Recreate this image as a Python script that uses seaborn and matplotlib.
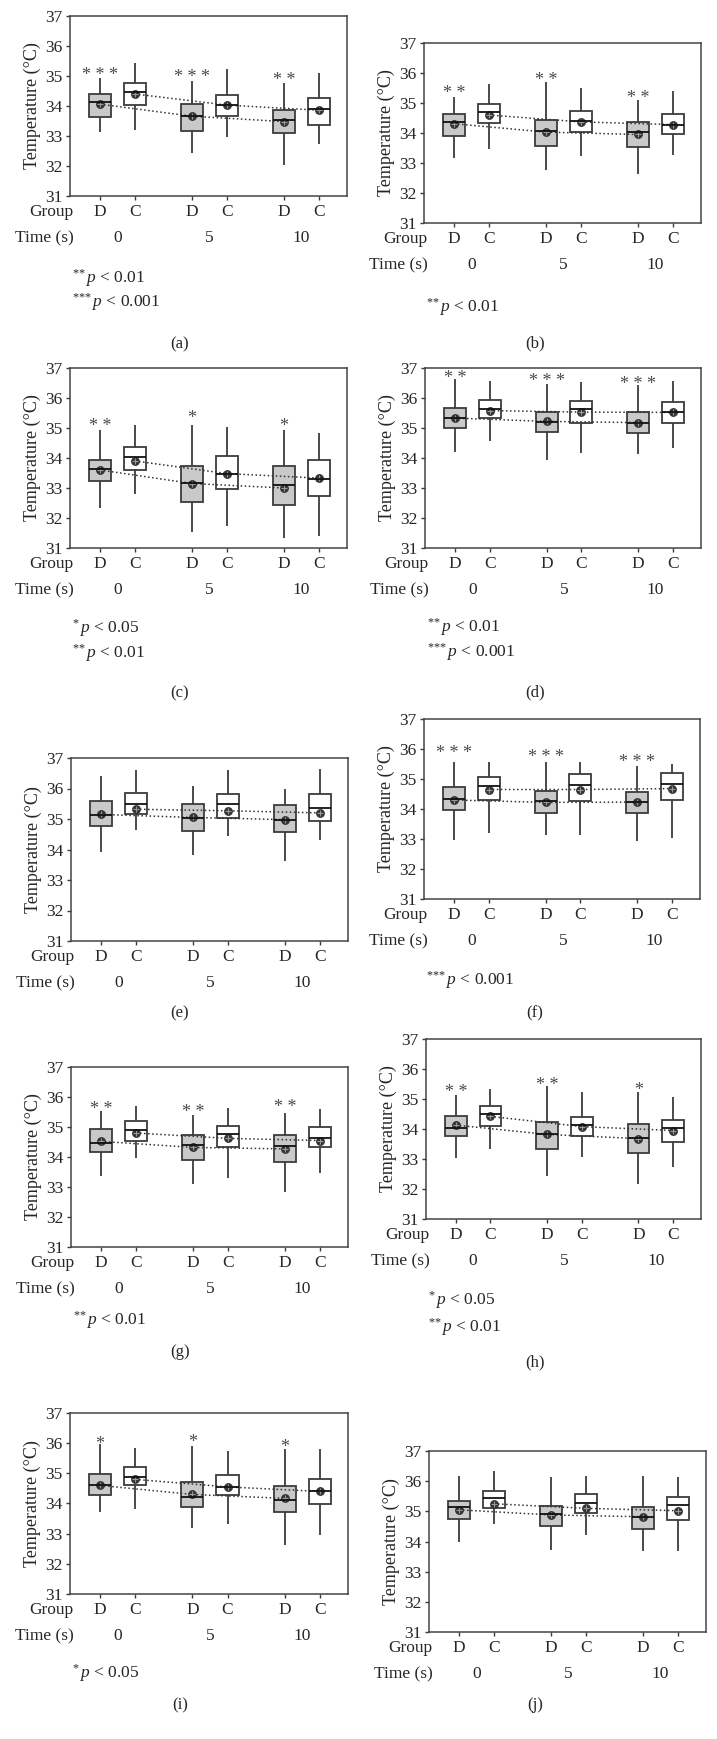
import numpy as np
import pandas as pd
import matplotlib
matplotlib.use("Agg")
import matplotlib.pyplot as plt
import seaborn as sns

# ---------------- data ----------------
times = ["0", "5", "10"]
groups = ["D", "C"]
# five-number summaries [low whisker, Q1, median, Q3, high whisker], order: D0, C0, D5, C5, D10, C10
a_box = [[33.15, 33.63, 34.13, 34.40, 34.95], [33.20, 34.02, 34.48, 34.78, 35.45],
         [32.43, 33.18, 33.68, 34.08, 34.83], [32.95, 33.68, 34.02, 34.38, 35.25],
         [32.05, 33.10, 33.52, 33.88, 34.78], [32.73, 33.37, 33.90, 34.28, 35.10]]
a_mean = [34.06, 34.40, 33.66, 34.03, 33.48, 33.86]
a_stars = ["***", "***", "**"]
a_star_y = [35.15, 35.10, 34.98]
a_notes = ["**", "***"]
a_note_p = ["0.01", "0.001"]

b_box = [[33.17, 33.91, 34.36, 34.62, 35.20], [33.45, 34.34, 34.70, 34.96, 35.62],
         [32.78, 33.56, 34.08, 34.45, 35.70], [33.22, 34.04, 34.41, 34.72, 35.50],
         [32.63, 33.54, 34.03, 34.37, 35.10], [33.28, 33.98, 34.26, 34.62, 35.40]]
b_mean = [34.31, 34.60, 34.03, 34.37, 33.95, 34.28]
b_stars = ["**", "**", "**"]
b_star_y = [35.45, 35.90, 35.30]
b_notes = ["**"]
b_note_p = ["0.01"]

c_box = [[32.35, 33.22, 33.65, 33.93, 34.95], [32.80, 33.60, 34.05, 34.38, 35.10],
         [31.55, 32.55, 33.18, 33.73, 35.10], [31.75, 32.98, 33.48, 34.07, 35.05],
         [31.35, 32.43, 33.10, 33.75, 34.92], [31.40, 32.75, 33.30, 33.93, 34.85]]
c_mean = [33.60, 33.90, 33.15, 33.48, 33.00, 33.33]
c_stars = ["**", "*", "*"]
c_star_y = [35.20, 35.45, 35.20]
c_notes = ["*", "**"]
c_note_p = ["0.05", "0.01"]

d_box = [[34.20, 34.99, 35.35, 35.67, 36.62], [34.57, 35.33, 35.65, 35.95, 36.58],
         [33.93, 34.86, 35.20, 35.55, 36.47], [34.17, 35.18, 35.63, 35.90, 36.55],
         [34.15, 34.83, 35.16, 35.52, 36.42], [34.35, 35.16, 35.55, 35.88, 36.58]]
d_mean = [35.33, 35.58, 35.22, 35.53, 35.18, 35.52]
d_stars = ["**", "***", "***"]
d_star_y = [36.80, 36.70, 36.60]
d_notes = ["**", "***"]
d_note_p = ["0.01", "0.001"]

e_box = [[33.93, 34.77, 35.12, 35.60, 36.40], [34.65, 35.17, 35.50, 35.85, 36.60],
         [33.83, 34.62, 35.02, 35.50, 36.07], [34.43, 35.02, 35.48, 35.82, 36.60],
         [33.63, 34.57, 34.97, 35.45, 35.97], [34.30, 34.93, 35.37, 35.82, 36.63]]
e_mean = [35.15, 35.32, 35.05, 35.27, 34.98, 35.20]
e_stars = ["", "", ""]
e_star_y = [0, 0, 0]
e_notes = []
e_note_p = []

f_box = [[32.97, 33.98, 34.33, 34.72, 35.57], [33.20, 34.30, 34.78, 35.07, 35.57],
         [33.15, 33.88, 34.27, 34.60, 35.57], [33.15, 34.27, 34.80, 35.18, 35.57],
         [32.93, 33.87, 34.23, 34.58, 35.43], [33.02, 34.30, 34.82, 35.20, 35.50]]
f_mean = [34.30, 34.65, 34.22, 34.65, 34.23, 34.68]
f_stars = ["***", "***", "***"]
f_star_y = [36.00, 35.85, 35.70]
f_notes = ["***"]
f_note_p = ["0.001"]

g_box = [[33.37, 34.18, 34.48, 34.93, 35.53], [33.98, 34.53, 34.90, 35.20, 35.70],
         [33.10, 33.90, 34.40, 34.72, 35.40], [33.30, 34.33, 34.75, 35.02, 35.63],
         [32.83, 33.82, 34.37, 34.72, 35.45], [33.47, 34.33, 34.63, 35.00, 35.60]]
g_mean = [34.52, 34.80, 34.32, 34.62, 34.27, 34.55]
g_stars = ["**", "**", "**"]
g_star_y = [35.72, 35.63, 35.80]
g_notes = ["**"]
g_note_p = ["0.01"]

h_box = [[33.03, 33.77, 34.05, 34.45, 35.12], [33.33, 34.10, 34.50, 34.77, 35.33],
         [32.45, 33.35, 33.82, 34.25, 35.42], [33.07, 33.77, 34.15, 34.40, 35.22],
         [32.17, 33.20, 33.70, 34.17, 35.22], [32.75, 33.57, 34.03, 34.30, 35.07]]
h_mean = [34.13, 34.42, 33.82, 34.08, 33.68, 33.95]
h_stars = ["**", "**", "*"]
h_star_y = [35.35, 35.60, 35.42]
h_notes = ["*", "**"]
h_note_p = ["0.05", "0.01"]

i_box = [[33.73, 34.28, 34.62, 34.97, 35.98], [33.83, 34.60, 34.87, 35.20, 35.83],
         [33.18, 33.88, 34.22, 34.72, 35.90], [33.33, 34.28, 34.55, 34.93, 35.73],
         [32.62, 33.73, 34.12, 34.57, 35.80], [32.97, 33.98, 34.42, 34.82, 35.80]]
i_mean = [34.60, 34.80, 34.30, 34.55, 34.17, 34.40]
i_stars = ["*", "*", "*"]
i_star_y = [36.10, 36.15, 36.00]
i_notes = ["*"]
i_note_p = ["0.05"]

j_box = [[34.00, 34.73, 35.13, 35.33, 36.18], [34.57, 35.10, 35.45, 35.67, 36.33],
         [33.72, 34.50, 34.90, 35.17, 36.13], [34.20, 34.93, 35.27, 35.58, 36.17],
         [33.70, 34.42, 34.80, 35.13, 36.18], [33.67, 34.70, 35.20, 35.47, 36.13]]
j_mean = [35.05, 35.25, 34.88, 35.10, 34.82, 35.02]
j_stars = ["", "", ""]
j_star_y = [0, 0, 0]
j_notes = []
j_note_p = []

yticks = [31, 32, 33, 34, 35, 36, 37]
ylabel = "Temperature (°C)"

# ---------------- style ----------------
sns.set_style("ticks")
plt.rcParams["font.family"] = ["Liberation Serif", "DejaVu Serif"]
plt.rcParams["mathtext.fontset"] = "custom"
plt.rcParams["mathtext.rm"] = "Liberation Serif"
plt.rcParams["mathtext.it"] = "Liberation Serif:italic"

W, H = 717, 1739
fig = plt.figure(figsize=(W / 100, H / 100), dpi=100)
fig.patch.set_facecolor("white")

WIDTH = 0.76
GAP = 0.37
PALETTE = {"D": "#c9c9c9", "C": "#ffffff"}
EDGE = "#3c3c3c"
FS = 12.5


def fy(y):
    return 1 - y / H


def draw(rect, boxes, means, stars, star_y, notes, note_p, note_y, label, label_y, label_x):
    l, t, r, b = rect
    ax = fig.add_axes([l / W, 1 - b / H, (r - l) / W, (b - t) / H])
    rows = []
    k = 0
    for tm in times:
        for g in groups:
            for v in boxes[k]:
                rows.append({"time": tm, "group": g, "temp": v})
            k += 1
    df = pd.DataFrame(rows)
    sns.boxplot(data=df, x="time", y="temp", hue="group", order=times, hue_order=groups,
                palette=PALETTE, width=WIDTH, gap=GAP, whis=(0, 100), showcaps=False,
                linewidth=1.3, linecolor=EDGE, fliersize=0,
                medianprops=dict(color="#111111", linewidth=1.3),
                legend=False, ax=ax)
    mdf = pd.DataFrame({"time": [tm for tm in times for g in groups],
                        "group": [g for tm in times for g in groups],
                        "temp": means})
    sns.pointplot(data=mdf, x="time", y="temp", hue="group", order=times, hue_order=groups,
                  palette={"D": "#333333", "C": "#333333"}, dodge=WIDTH / 2, markers="o",
                  linestyles=":", errorbar=None, markersize=5.5, linewidth=1.1,
                  legend=False, ax=ax)
    sns.pointplot(data=mdf, x="time", y="temp", hue="group", order=times, hue_order=groups,
                  palette={"D": "#9a9a9a", "C": "#9a9a9a"}, dodge=WIDTH / 2, markers="+",
                  linestyles="none", errorbar=None, markersize=4, markeredgewidth=0.8,
                  legend=False, ax=ax)
    ax.set_ylim(31, 37)
    ax.set_xlim(-0.516, 2.495)
    ax.set_yticks(yticks)
    ax.set_yticklabels([str(v) for v in yticks], fontsize=FS)
    pos = [i + s * WIDTH / 4 for i in range(len(times)) for s in (-1, 1)]
    ax.set_xticks(pos)
    ax.set_xticklabels(groups * len(times), fontsize=FS)
    ax.set_xlabel("")
    ax.set_ylabel(ylabel, fontsize=13, labelpad=3)
    ax.tick_params(axis="both", direction="out", length=3, width=1, color=EDGE, pad=2.5)
    for sp in ax.spines.values():
        sp.set_visible(True)
        sp.set_color("#444444")
        sp.set_linewidth(1.1)
    # star annotations
    for i, (s, y) in enumerate(zip(stars, star_y)):
        if s:
            ax.text(i - WIDTH / 4, y - 0.14, " ".join(s), ha="center", va="center",
                    fontsize=13, color="#4a4a4a")
    # Group / Time rows
    tr = ax.get_xaxis_transform()
    hpx = b - t
    ax.text(0.012, -16 / hpx, "Group", transform=ax.transAxes, ha="right", va="center",
            fontsize=FS)
    ax.text(0.012, -42 / hpx, "Time (s)", transform=ax.transAxes, ha="right", va="center",
            fontsize=FS)
    for i, tm in enumerate(times):
        ax.text(i, -42 / hpx, tm, transform=tr, ha="center", va="center", fontsize=FS)
    for n, p, y in zip(notes, note_p, note_y):
        sup = "".join("{*}" for _ in n)
        fig.text((l + 2) / W, fy(y), r"$^{" + sup + r"}\,p$" + " < " + p, ha="left",
                 va="center", fontsize=FS)
    fig.text(label_x / W, fy(label_y), label, ha="center", va="center", fontsize=12)
    return ax


draw((70, 16, 347, 196), a_box, a_mean, a_stars, a_star_y, a_notes, a_note_p, [278, 302], "(a)", 344, 180)
draw((424, 43, 701, 223), b_box, b_mean, b_stars, b_star_y, b_notes, b_note_p, [307], "(b)", 343, 535)
draw((70, 368, 347, 548), c_box, c_mean, c_stars, c_star_y, c_notes, c_note_p, [628, 653], "(c)", 693, 180)
draw((425, 368, 701, 548), d_box, d_mean, d_stars, d_star_y, d_notes, d_note_p, [627, 652], "(d)", 692, 535)
draw((71, 758, 348, 941), e_box, e_mean, e_stars, e_star_y, e_notes, e_note_p, [], "(e)", 1013, 180)
draw((424, 719, 700, 899), f_box, f_mean, f_stars, f_star_y, f_notes, f_note_p, [980], "(f)", 1013, 535)
draw((71, 1067, 348, 1247), g_box, g_mean, g_stars, g_star_y, g_notes, g_note_p, [1320], "(g)", 1352, 180)
draw((426, 1039, 701, 1219), h_box, h_mean, h_stars, h_star_y, h_notes, h_note_p, [1300, 1327], "(h)", 1362, 535)
draw((70, 1413, 348, 1594), i_box, i_mean, i_stars, i_star_y, i_notes, i_note_p, [1673], "(i)", 1705, 180)
draw((429, 1451, 706, 1632), j_box, j_mean, j_stars, j_star_y, j_notes, j_note_p, [], "(j)", 1705, 535)

fig.savefig("out.png", dpi=100, facecolor="white")
